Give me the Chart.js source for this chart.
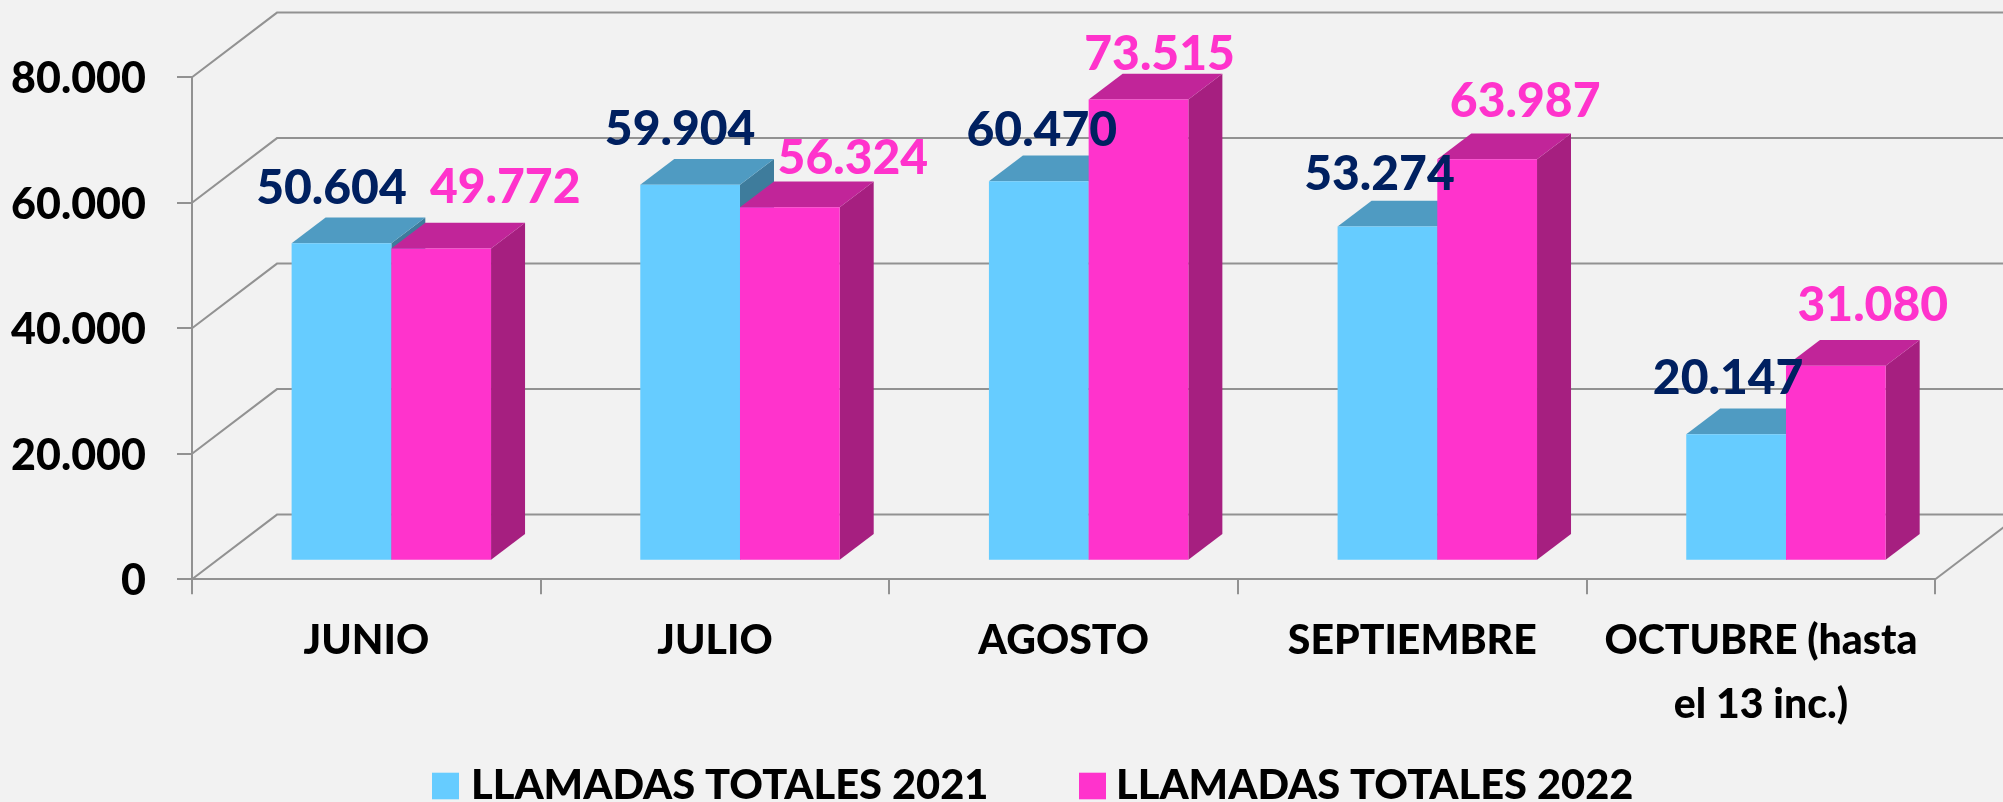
<!DOCTYPE html>
<html><head><meta charset="utf-8">
<style>html,body{margin:0;padding:0;background:#F2F2F2}canvas{display:block}</style>
<script src="https://cdn.jsdelivr.net/npm/chart.js@4"></script>
</head><body>
<div style="width:2003px;height:802px"><canvas id="c" width="2003" height="802"></canvas></div>
<script>
const categories = ["JUNIO", "JULIO", "AGOSTO", "SEPTIEMBRE", ["OCTUBRE (hasta", "el 13 inc."+")"]];
const llamadas2021 = [50604, 59904, 60470, 53274, 20147];
const llamadas2022 = [49772, 56324, 73515, 63987, 31080];
const seriesNames = ["LLAMADAS TOTALES 2021", "LLAMADAS TOTALES 2022"];
const yTicks = [0, 20000, 40000, 60000, 80000];

const FONT = "Lato";
const WEIGHT = "900";
const GRID = "#929292";
const WALL = {dx: 85, dy: 64.7};
const BAR_SHIFT = {dx: 25, dy: 18.6};
const BAR_DEPTH = {dx: 34, dy: 25.7};
const FACES = [
  {front: "#66CCFF", top: "#4F9BC2", side: "#3E7C9C", text: "#002060"},
  {front: "#FF33CC", top: "#C12599", side: "#A61F80", text: "#FF33CC"}
];
const LABEL_OFFSETS = [
  [[-10,-55],[-10,-55],[3,-51],[-8,-52],[-8,-56]],
  [[64,-61],[63,-49],[21,-45],[38,-58],[37,-60]]
];
const LEGEND_POS = [{box: 432, text: 471}, {box: 1079, text: 1116}];
const fmt = v => String(v).replace(/\B(?=(\d{3})+$)/g, ".");

const threeD = {
  id: "threeD",
  beforeDatasetsDraw(chart) {
    const {ctx, chartArea: a, scales: {y}} = chart;
    ctx.save();
    ctx.strokeStyle = GRID; ctx.lineWidth = 2;
    yTicks.forEach(t => {
      const py = y.getPixelForValue(t);
      ctx.beginPath();
      ctx.moveTo(a.left, py);
      ctx.lineTo(a.left + WALL.dx, py - WALL.dy);
      ctx.lineTo(chart.width, py - WALL.dy);
      ctx.stroke();
    });
    const p0 = y.getPixelForValue(0);
    ctx.beginPath();
    ctx.moveTo(a.right, p0);
    ctx.lineTo(a.right + WALL.dx, p0 - WALL.dy);
    ctx.stroke();
    ctx.translate(BAR_SHIFT.dx, -BAR_SHIFT.dy);
    [0, 1].forEach(di => {
      const meta = chart.getDatasetMeta(di), f = FACES[di];
      meta.data.forEach(el => {
        const L = el.x - el.width / 2, R = el.x + el.width / 2, T = el.y, B = el.base;
        const d = BAR_DEPTH;
        ctx.fillStyle = f.side;
        ctx.beginPath();
        ctx.moveTo(R, T); ctx.lineTo(R + d.dx, T - d.dy); ctx.lineTo(R + d.dx, B - d.dy); ctx.lineTo(R, B);
        ctx.closePath(); ctx.fill();
        ctx.fillStyle = f.top;
        ctx.beginPath();
        ctx.moveTo(L, T); ctx.lineTo(L + d.dx, T - d.dy); ctx.lineTo(R + d.dx, T - d.dy); ctx.lineTo(R, T);
        ctx.closePath(); ctx.fill();
        el.draw(ctx, a);
      });
    });
    ctx.restore();
  },
  beforeDatasetDraw() { return false; },
  afterDatasetsDraw(chart) {
    const {ctx} = chart;
    ctx.save();
    ctx.font = WEIGHT + " 48px " + FONT;
    ctx.textAlign = "center"; ctx.textBaseline = "middle";
    [0, 1].forEach(di => {
      const meta = chart.getDatasetMeta(di);
      ctx.fillStyle = FACES[di].text;
      meta.data.forEach((el, i) => {
        const o = LABEL_OFFSETS[di][i];
        ctx.fillText(fmt(chart.data.datasets[di].data[i]),
          el.x + BAR_SHIFT.dx + o[0], el.y - BAR_SHIFT.dy + o[1]);
      });
    });
    ctx.font = WEIGHT + " 41.6px " + FONT;
    ctx.textAlign = "left"; ctx.textBaseline = "alphabetic";
    chart.data.datasets.forEach((ds, i) => {
      ctx.fillStyle = ds.backgroundColor;
      ctx.fillRect(LEGEND_POS[i].box, 772.7, 27, 26.6);
      ctx.fillStyle = "#000";
      ctx.fillText(ds.label, LEGEND_POS[i].text, 799);
    });
    ctx.restore();
  }
};

new Chart(document.getElementById("c"), {
  type: "bar",
  data: {
    labels: categories,
    datasets: [
      {label: seriesNames[0], data: llamadas2021, backgroundColor: FACES[0].front, borderWidth: 0},
      {label: seriesNames[1], data: llamadas2022, backgroundColor: FACES[1].front, borderWidth: 0}
    ]
  },
  plugins: [threeD, {
    id: "bg",
    beforeDraw(c) { c.ctx.save(); c.ctx.fillStyle = "#F2F2F2"; c.ctx.fillRect(0, 0, c.width, c.height); c.ctx.restore(); }
  }],
  options: {
    responsive: false,
    animation: false,
    layout: {padding: {top: 77.3, right: 67.7, left: 0, bottom: 0}},
    datasets: {bar: {barPercentage: 1, categoryPercentage: 0.572}},
    scales: {
      x: {
        grid: {drawOnChartArea: false, color: GRID, lineWidth: 2, tickLength: 15, offset: true},
        border: {color: GRID, width: 2},
        ticks: {color: "#000", font: {family: FONT, weight: WEIGHT, size: 41, lineHeight: 1.55}, maxRotation: 0, minRotation: 0, autoSkip: false, padding: 15},
        afterFit(s) { s.height = 222.7; }
      },
      y: {
        min: 0, max: 80000,
        afterBuildTicks(s) { s.ticks = yTicks.map(v => ({value: v})); },
        grid: {drawOnChartArea: false, color: GRID, lineWidth: 2, tickLength: 15},
        border: {color: GRID, width: 2},
        ticks: {color: "#000", font: {family: FONT, weight: WEIGHT, size: 43}, padding: 31, labelOffset: 2, callback: v => fmt(v)},
        afterFit(s) { s.width = 192; }
      }
    },
    plugins: {
      tooltip: {enabled: false},
      legend: {display: false}
    }
  }
});
</script>
</body></html>
